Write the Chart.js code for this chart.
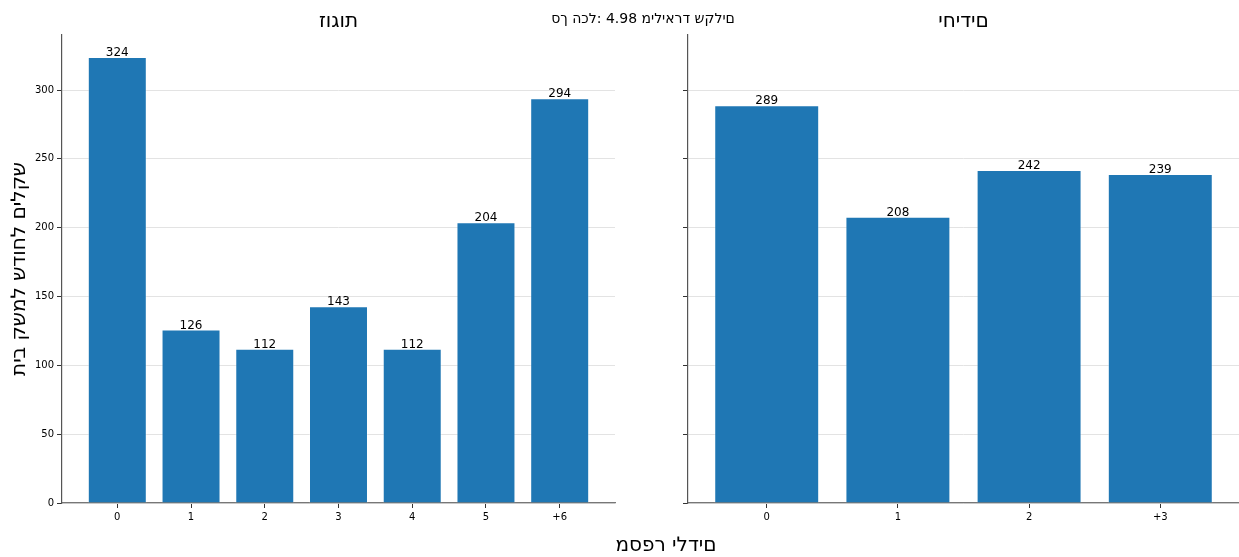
<!DOCTYPE html>
<html lang="he">
<head>
<meta charset="utf-8">
<script src="https://cdn.jsdelivr.net/npm/chart.js@4"></script>
<style>
  body { margin: 0; width: 1239px; height: 557px; position: relative; background: #fff; overflow: hidden; font-family: "DejaVu Sans", sans-serif; }
  #left { position: absolute; left: 0; top: 0; }
  #right { position: absolute; left: 620px; top: 0; }
  .txt { position: absolute; color: #000; white-space: nowrap; direction: ltr; unicode-bidi: bidi-override; transform: translate(-50%, -50%); }
</style>
</head>
<body>
<canvas id="left" width="640" height="557"></canvas>
<canvas id="right" width="619" height="557"></canvas>
<div class="txt" style="left:643px; top:18px; font-size:14px;">סך הכל: 4.98 מיליארד שקלים</div>
<div class="txt" style="left:666px; top:544px; font-size:20px;">מספר ילדים</div>

<script>
// --- נתונים ---
const coupleKids = ["0", "1", "2", "3", "4", "5", "+6"];
const coupleValues = [324, 126, 112, 143, 112, 204, 294];
const singleKids = ["0", "1", "2", "+3"];
const singleValues = [289, 208, 242, 239];
const yMax = 340;
const yStep = 50;

const barBlue = "#1f77b4";

// הטקסט במקור מצויר משמאל לימין (בלי bidi)
const ltr = (s) => "\u202D" + s + "\u202C";

// תוויות ערך מעל כל עמודה
const valueLabels = {
    id: "valueLabels",
    afterDatasetsDraw(chart) {
        const ctx = chart.ctx;
        const meta = chart.getDatasetMeta(0);
        ctx.save();
        ctx.font = "12px 'DejaVu Sans'";
        ctx.fillStyle = "#000";
        ctx.textAlign = "center";
        ctx.textBaseline = "bottom";
        meta.data.forEach((bar, i) => {
            ctx.fillText(chart.data.datasets[0].data[i].y, bar.x, bar.y + 2);
        });
        ctx.restore();
    },
};

function makePanel(canvasId, title, cats, values, opts) {
    const ctx = document.getElementById(canvasId).getContext("2d");
    return new Chart(ctx, {
        type: "bar",
        data: {
            datasets: [{
                data: values.map((v, i) => ({ x: i, y: v })),
                backgroundColor: barBlue,
                borderColor: "rgba(255,255,255,0.35)",
                borderWidth: 1,
                categoryPercentage: 1.0,
                barPercentage: 0.8,
            }, ],
        },
        options: {
            responsive: false,
            animation: false,
            layout: { padding: { left: 0, right: opts.padRight, top: 0, bottom: 0 } },
            scales: {
                x: {
                    type: "linear",
                    offset: false,
                    min: -opts.xPad,
                    max: cats.length - 1 + opts.xPad,
                    afterBuildTicks: (axis) => {
                        axis.ticks = cats.map((c, i) => ({ value: i }));
                    },
                    afterFit: (axis) => { axis.height = 54; },
                    ticks: {
                        callback: (v) => cats[v],
                        color: "#000",
                        font: { size: 10, family: "DejaVu Sans" },
                        padding: 3,
                        maxRotation: 0,
                    },
                    grid: { offset: false, drawOnChartArea: false, tickColor: "#333", tickLength: 5 },
                    border: { color: "#777", width: 1.2 },
                },
                y: {
                    min: 0,
                    max: yMax,
                    afterFit: (axis) => { axis.width = opts.yWidth; },
                    ticks: {
                        stepSize: yStep,
                        includeBounds: false,
                        display: opts.showYLabels,
                        color: "#000",
                        font: { size: 10, family: "DejaVu Sans" },
                        padding: 3,
                    },
                    grid: { color: "#e3e3e3", tickColor: "#333", tickLength: 5 },
                    border: { color: "#555", width: 1.2 },
                    title: {
                        display: opts.showYLabels,
                        text: "שקלים לחודש למשק בית",
                        color: "#000",
                        font: { size: 20, family: "DejaVu Sans" },
                        padding: { top: 8, bottom: 0 },
                    },
                },
            },
            plugins: {
                legend: { display: false },
                tooltip: { enabled: false },
                title: {
                    display: true,
                    text: ltr(title),
                    fullSize: false,
                    color: "#000",
                    font: { size: 20, family: "DejaVu Sans", weight: "normal" },
                    padding: { top: 10, bottom: 1 },
                },
            },
        },
        plugins: [valueLabels],
    });
}

makePanel("left", "זוגות", coupleKids, coupleValues, { xPad: 0.75, padRight: 25, yWidth: 62, showYLabels: true });
makePanel("right", "יחידים", singleKids, singleValues, { xPad: 0.6, padRight: 0, yWidth: 68, showYLabels: false });
</script>
</body>
</html>
